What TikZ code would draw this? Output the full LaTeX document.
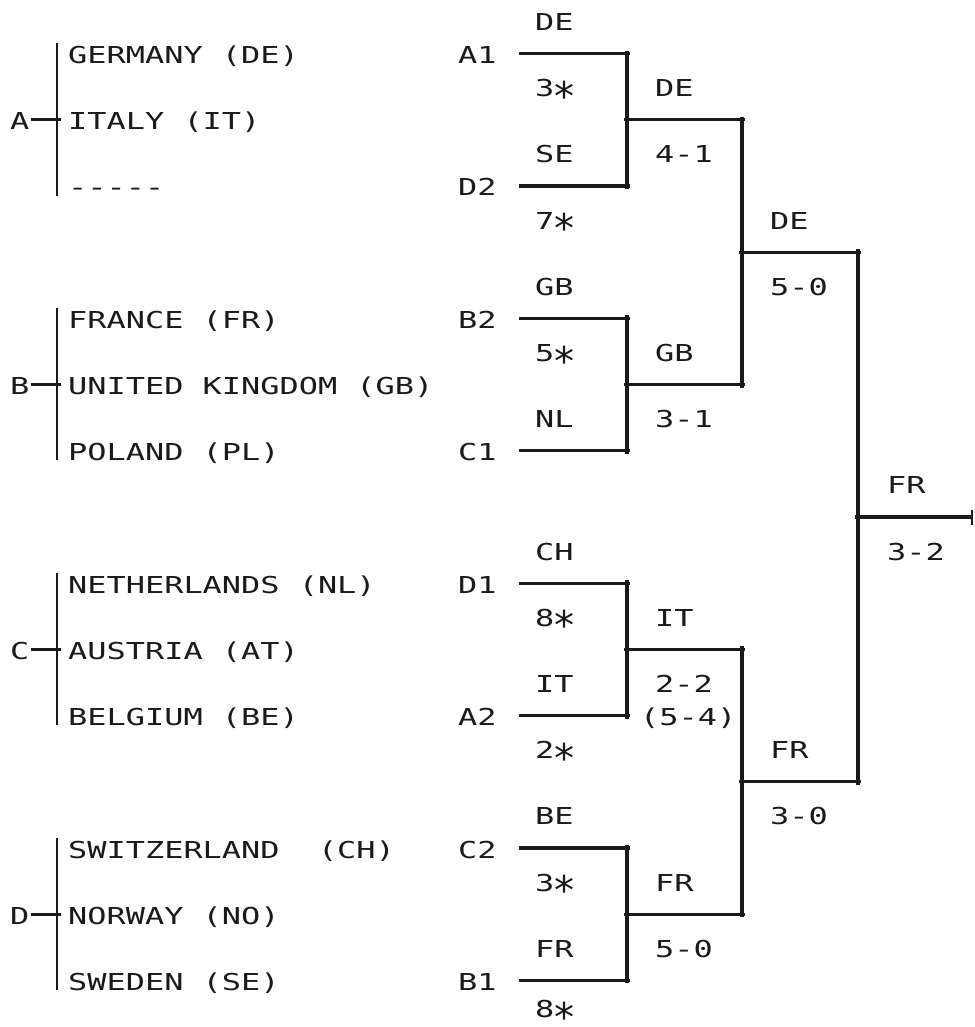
\documentclass[tikz,border=0pt]{standalone}
\usepackage{graphicx}
\usepackage{fontspec}
\newfontfamily\plotfont[FakeStretch=1.37]{DejaVu Sans Mono}
\definecolor{ink}{HTML}{1A1A1A}
\newcommand\pstar{\makebox[19.2pt]{\raisebox{-13.5pt}{\scalebox{1.25}[1.7]{*}}}}
\newcommand\dashrow{\mbox{-}\mbox{-}\mbox{-}\mbox{-}\mbox{-}}
\begin{document}
\begin{tikzpicture}[x=1pt,y=-1pt,
  declare function={rowy(\n)=22+33.1*\n;},
  txt/.style={inner sep=0pt,anchor=west,text height=17pt,text depth=0pt,
    font=\plotfont\fontsize{23.3pt}{28pt}\selectfont,text=ink},
  wire/.style={draw=ink,line width=3.2pt},
  extr/.style={shorten >=-3pt},
  extb/.style={shorten >=-3pt,shorten <=-3pt}]
\useasboundingbox[fill=white] (0,0) rectangle (974,1027);

% ---------- groups ----------
\node[txt] (gA) at (10,{rowy(3)}) {A};
\node[txt] (gB) at (10,{rowy(11)}) {B};
\node[txt] (gC) at (10,{rowy(19)}) {C};
\node[txt] (gD) at (10,{rowy(27)}) {D};

\node[txt] (tGER) at (68,{rowy(1)}) {GERMANY (DE)};
\node[txt] (tITA) at (68,{rowy(3)}) {ITALY (IT)};
\node[txt] (tNONE) at (68,{rowy(5)}) {\dashrow};
\node[txt] (tFRA) at (68,{rowy(9)}) {FRANCE (FR)};
\node[txt] (tGBR) at (68,{rowy(11)}) {UNITED KINGDOM (GB)};
\node[txt] (tPOL) at (68,{rowy(13)}) {POLAND (PL)};
\node[txt] (tNED) at (68,{rowy(17)}) {NETHERLANDS (NL)};
\node[txt] (tAUT) at (68,{rowy(19)}) {AUSTRIA (AT)};
\node[txt] (tBEL) at (68,{rowy(21)}) {BELGIUM (BE)};
\node[txt] (tSUI) at (68,{rowy(25)}) {SWITZERLAND\ \ (CH)};
\node[txt] (tNOR) at (68,{rowy(27)}) {NORWAY (NO)};
\node[txt] (tSWE) at (68,{rowy(29)}) {SWEDEN (SE)};

\foreach \g/\t/\m/\b in {A/1/3/5,B/9/11/13,C/17/19/21,D/25/27/29}{
  \coordinate (bar\g t) at (57,{rowy(\t)-12});
  \coordinate (bar\g m) at (57,{rowy(\m)-1.5});
  \coordinate (bar\g b) at (57,{rowy(\b)+8});
  \draw[wire,line width=2.8pt] (bar\g t) -- (bar\g b);
  \draw[wire,line width=2.8pt,shorten <=1pt,shorten >=-4pt] (g\g.east |- bar\g m) -- (bar\g m);
}

% ---------- match slots ----------
\node[txt] (mA1) at (458,{rowy(1)}) {A1};
\node[txt] (mD2) at (458,{rowy(5)}) {D2};
\node[txt] (mB2) at (458,{rowy(9)}) {B2};
\node[txt] (mC1) at (458,{rowy(13)}) {C1};
\node[txt] (mD1) at (458,{rowy(17)}) {D1};
\node[txt] (mA2) at (458,{rowy(21)}) {A2};
\node[txt] (mC2) at (458,{rowy(25)}) {C2};
\node[txt] (mB1) at (458,{rowy(29)}) {B1};

% team labels
\node[txt] (l0) at (535,{rowy(0)}) {DE};
\node[txt] (l2) at (535,{rowy(2)}) {3\pstar};
\node[txt] (l4) at (535,{rowy(4)}) {SE};
\node[txt] (l6) at (535,{rowy(6)}) {7\pstar};
\node[txt] (l8) at (535,{rowy(8)}) {GB};
\node[txt] (l10) at (535,{rowy(10)}) {5\pstar};
\node[txt] (l12) at (535,{rowy(12)}) {NL};
\node[txt] (l16) at (535,{rowy(16)}) {CH};
\node[txt] (l18) at (535,{rowy(18)}) {8\pstar};
\node[txt] (l20) at (535,{rowy(20)}) {IT};
\node[txt] (l22) at (535,{rowy(22)}) {2\pstar};
\node[txt] (l24) at (535,{rowy(24)}) {BE};
\node[txt] (l26) at (535,{rowy(26)}) {3\pstar};
\node[txt] (l28) at (535,{rowy(28)}) {FR};
\node[txt] (l30) at (535,{rowy(30)-6}) {8\pstar};

% quarter-final winners
\node[txt] (w1) at (655,{rowy(2)}) {DE};
\node[txt] (s1) at (655,{rowy(4)}) {4-1};
\node[txt] (w2) at (655,{rowy(10)}) {GB};
\node[txt] (s2) at (655,{rowy(12)}) {3-1};
\node[txt] (w3) at (655,{rowy(18)}) {IT};
\node[txt] (s3) at (655,{rowy(20)}) {2-2};
\node[txt] (s3p) at (640,{rowy(21)}) {(5-4)};
\node[txt] (w4) at (655,{rowy(26)}) {FR};
\node[txt] (s4) at (655,{rowy(28)}) {5-0};
% semi-final winners
\node[txt] (w5) at (770,{rowy(6)}) {DE};
\node[txt] (s5) at (770,{rowy(8)}) {5-0};
\node[txt] (w6) at (770,{rowy(22)}) {FR};
\node[txt] (s6) at (770,{rowy(24)}) {3-0};
% final
\node[txt] (w7) at (887,{rowy(14)}) {FR};
\node[txt] (s7) at (887,{rowy(16)}) {3-2};

% ---------- bracket coordinates ----------
\foreach \nm/\n in {a1/1,d2/5,b2/9,c1/13,d1/17,a2/21,c2/25,b1/29}{
  \coordinate (\nm s) at (519,{rowy(\n)-1.5});
  \coordinate (\nm e) at (627,{rowy(\n)-1.5});
}
\coordinate (q1m) at (627,{rowy(3)-1.5});
\coordinate (q2m) at (627,{rowy(11)-1.5});
\coordinate (q3m) at (627,{rowy(19)-1.5});
\coordinate (q4m) at (627,{rowy(27)-1.5});
\coordinate (sf1t) at (742,{rowy(3)-1.5});
\coordinate (sf1b) at (742,{rowy(11)-1.5});
\coordinate (sf1m) at (742,{rowy(7)-1.5});
\coordinate (sf2t) at (742,{rowy(19)-1.5});
\coordinate (sf2b) at (742,{rowy(27)-1.5});
\coordinate (sf2m) at (742,{rowy(23)-1.5});
\coordinate (ft) at (858,{rowy(7)-1.5});
\coordinate (fb) at (858,{rowy(23)-1.5});
\coordinate (fm) at (858,{rowy(15)-1.5});
\coordinate (fend) at (972,{rowy(15)-1.5});
\coordinate (fendt) at (972,{rowy(15)-9});
\coordinate (fendb) at (972,{rowy(15)+6});

% entry lines
\foreach \nm in {a1,d2,b2,c1,d1,a2,c2,b1}{
  \draw[wire,extr] (\nm s) -- (\nm e);
}
% quarter-final verticals and outputs
\draw[wire,extb] (a1e) -- (d2e);
\draw[wire,extb] (b2e) -- (c1e);
\draw[wire,extb] (d1e) -- (a2e);
\draw[wire,extb] (c2e) -- (b1e);
\draw[wire,extb] (q1m) -- (sf1t);
\draw[wire,extb] (q2m) -- (sf1b);
\draw[wire,extb] (q3m) -- (sf2t);
\draw[wire,extb] (q4m) -- (sf2b);
% semi-finals
\draw[wire,extb] (sf1t) -- (sf1b);
\draw[wire,extb] (sf2t) -- (sf2b);
\draw[wire,extb] (sf1m) -- (ft);
\draw[wire,extb] (sf2m) -- (fb);
% final
\draw[wire,extb] (ft) -- (fb);
\draw[wire,shorten <=-3pt] (fm) -- (fend);
\draw[wire,line width=2.2pt] (fendt) -- (fendb);
\end{tikzpicture}
\end{document}
